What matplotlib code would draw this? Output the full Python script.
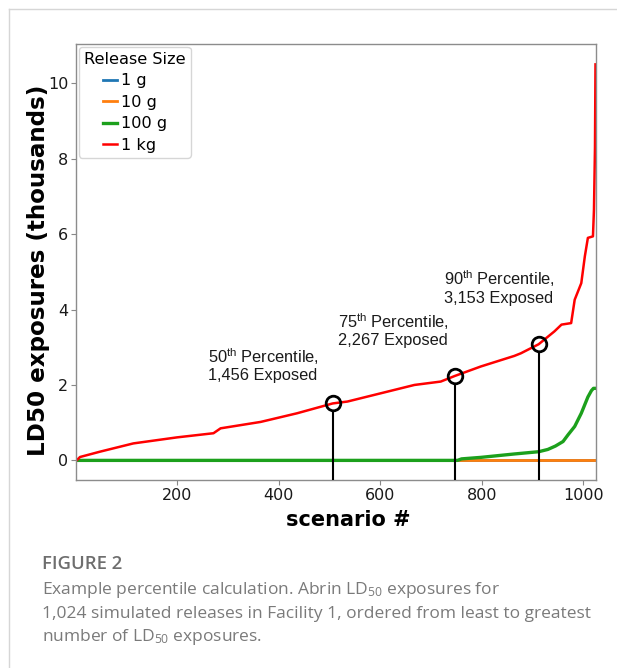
import matplotlib
matplotlib.use("Agg")
import matplotlib.pyplot as plt
from matplotlib.lines import Line2D

plt.rcParams['mathtext.default'] = 'regular'

# sorted scenarios (x) and LD50 exposures in thousands (y)
scenario_1kg = [1, 8, 47, 113, 199, 271, 285, 364, 436, 506, 535, 601, 667, 719, 747,
                798, 864, 877, 912, 943, 957, 976, 983, 996, 1003, 1009, 1019, 1021,
                1023, 1024]
exposed_1kg = [0, 0.09, 0.23, 0.45, 0.61, 0.72, 0.85, 1.02, 1.25, 1.51, 1.56, 1.78, 2.0,
               2.09, 2.24, 2.49, 2.77, 2.84, 3.08, 3.42, 3.60, 3.64, 4.26, 4.70, 5.41,
               5.90, 5.94, 6.65, 8.3, 10.5]
scenario_100g = [1, 752, 760, 798, 864, 912, 930, 945, 960, 970, 983, 996, 1009, 1016,
                 1020, 1024]
exposed_100g = [0, 0, 0.04, 0.08, 0.17, 0.23, 0.29, 0.38, 0.5, 0.68, 0.9, 1.25, 1.68,
                1.85, 1.91, 1.91]
scenario_small = [1, 1024]
exposed_10g = [0, 0]
exposed_1g = [0, 0]

pct_scenario = [506, 747, 913]
pct_exposed = [1.51, 2.24, 3.08]
pct_text = ["50$^{th}$ Percentile,\n1,456 Exposed",
            "75$^{th}$ Percentile,\n2,267 Exposed",
            "90$^{th}$ Percentile,\n3,153 Exposed"]

W, H = 617, 668
fig = plt.figure(figsize=(W / 100, H / 100), dpi=100)
ax = fig.add_axes([76 / W, 1 - 480 / H, 520 / W, 436 / H])

ax.plot(scenario_small, exposed_1g, color='#1f77b4', lw=2.0, label='1 g')
ax.plot(scenario_small, exposed_10g, color='#ff7f0e', lw=2.0, label='10 g')
ax.plot(scenario_100g, exposed_100g, color='#1ca01c', lw=2.4, label='100 g')
ax.plot(scenario_1kg, exposed_1kg, color='#ff0000', lw=1.8, label='1 kg')

ax.set_xlim(0, 1025)
ax.set_ylim(-0.52, 11.04)

# percentile markers with drop lines
ax.vlines(pct_scenario, -0.52, [v - 0.2 for v in pct_exposed], color='black', lw=1.5, zorder=4)
ax.plot(pct_scenario, pct_exposed, 'o', ms=10.5, mfc='none', mec='black', mew=2.0, zorder=5)
for txt, (tx, ty) in zip(pct_text, [(261, 3.03), (516, 3.96), (725, 5.08)]):
    ax.text(tx, ty, txt, family='Liberation Sans', fontsize=11.8, va='top', ha='left',
            color='#1a1a1a', linespacing=1.1)

ax.set_xticks([200, 400, 600, 800, 1000])
ax.set_yticks([0, 2, 4, 6, 8, 10])
ax.tick_params(labelsize=11.5, length=3.5, width=0.8, color='#888888', labelcolor='#1a1a1a', pad=2)
for s in ax.spines.values():
    s.set_color('#8c8c8c')
    s.set_linewidth(1.0)

ax.set_ylabel('LD50 exposures (thousands)', fontsize=16.6, fontweight='bold')
ax.yaxis.set_label_coords(-0.05, 0.48)
ax.set_xlabel('scenario #', fontsize=15, fontweight='bold')
ax.xaxis.set_label_coords(0.523, -0.068)

leg = ax.legend(title='Release Size', loc='upper left', fontsize=11.6, title_fontsize=11.6,
                handlelength=0.9, handletextpad=0.25, labelspacing=0.4,
                borderaxespad=0.2, borderpad=0.3)

# card frame
fig.add_artist(Line2D([9 / W, 9 / W], [0, 1 - 9 / H], transform=fig.transFigure,
                      color='#d6d6d6', lw=1))
fig.add_artist(Line2D([9 / W, 1], [1 - 9 / H, 1 - 9 / H], transform=fig.transFigure,
                      color='#d6d6d6', lw=1))

# caption
fig.text(42 / W, 1 - 569 / H, 'FIGURE 2', family='Open Sans', fontweight='semibold',
         fontsize=13.3, color='#6e6e6e', va='baseline')
caption = ["Example percentile calculation. Abrin LD$_{50}$ exposures for",
           "1,024 simulated releases in Facility 1, ordered from least to greatest",
           "number of LD$_{50}$ exposures."]
for i, line in enumerate(caption):
    fig.text(42 / W, 1 - (594 + 23.5 * i) / H, line, family='Open Sans', fontsize=12.5,
             color='#7a7a7a', va='baseline')

fig.savefig('out.png', dpi=100)
